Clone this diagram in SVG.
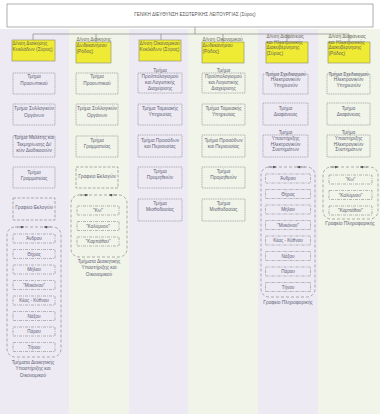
<svg xmlns="http://www.w3.org/2000/svg" width="380" height="414" viewBox="0 0 380 414">
<defs>
<style>
text{font-family:"Liberation Sans",Arial,sans-serif}
.t{font-size:4.8px;fill:#5e6274;text-anchor:middle}
.i{font-size:4.6px;fill:#5e6274;text-anchor:middle}
.y{font-size:4.8px;fill:#66664f}
.h{font-size:4.6px;fill:#555;text-anchor:middle}
.bl{fill:#EDEAF4}
.bg{fill:#F1F4E9}
.top{fill:#fff;stroke:#7a7a7a;stroke-width:0.6}
.dir{fill:#EFEB35;stroke:#8a8a70;stroke-width:0.6}
.dept{fill:none;stroke:#8c8c8c;stroke-width:0.6;stroke-dasharray:1.2 0.6}
.office{fill:none;stroke:#8c8c8c;stroke-width:0.7;stroke-dasharray:3 1.5}
.item{fill:none;stroke:#8c8c8c;stroke-width:0.6;stroke-dasharray:3 1 1 1}
.cont{fill:none;stroke:#8c8c8c;stroke-width:0.7;stroke-dasharray:3 2}
.ar{stroke:#666;stroke-width:0.6;marker-end:url(#ah)}
.conn{fill:none;stroke:#7a7a7a;stroke-width:0.6}
</style>
<marker id="ah" markerWidth="3" markerHeight="3" refX="3" refY="1.5" orient="auto" markerUnits="userSpaceOnUse">
<path d="M0,0 L3,1.5 L0,3 z" fill="#555"/>
</marker>
</defs>

<g id="bands">
<rect class="bl" x="0" y="29" width="69" height="385"/>
<rect class="bg" x="69" y="29" width="60" height="385"/>
<rect class="bl" x="129" y="29" width="59" height="385"/>
<rect class="bg" x="188" y="29" width="70" height="385"/>
<rect class="bl" x="258" y="29" width="60" height="385"/>
<rect class="bg" x="318" y="29" width="62" height="385"/>
</g>

<g id="connectors">
<path class="conn" d="M195 27V34M33 34H349M33 34V40M96 34V42M161 34V40M223 34V42M287 34V42M349 34V42"/>
</g>

<g id="gd">
<rect class="top" x="7" y="4" width="366" height="23"/>
<text class="h" x="195" y="15.6">ΓΕΝΙΚΗ ΔΙΕΥΘΥΝΣΗ ΕΣΩΤΕΡΙΚΗΣ ΛΕΙΤΟΥΡΓΙΑΣ (Σύρος)</text>
</g>

<!-- Directorates -->
<g id="d1"><rect class="dir" x="12" y="40" width="43" height="21"/>
<text class="y"><tspan x="12.6" y="45.2">Δ/νση Διοίκησης</tspan><tspan x="12.6" y="51.2">Κυκλάδων (Σύρος)</tspan></text></g>
<g id="d2"><rect class="dir" x="76" y="42" width="35" height="21"/>
<text class="y"><tspan x="76.5" y="41">Δ/νση Διοίκησης</tspan><tspan x="76.5" y="46.8">Δωδεκανήσου</tspan><tspan x="76.5" y="52.8">(Ρόδος)</tspan></text></g>
<g id="d3"><rect class="dir" x="139" y="40" width="42" height="21"/>
<text class="y"><tspan x="139.5" y="45.2">Δ/νση Οικονομικού</tspan><tspan x="139.5" y="51.2">Κυκλάδων (Σύρος)</tspan></text></g>
<g id="d4"><rect class="dir" x="202" y="42" width="42" height="21"/>
<text class="y"><tspan x="202.5" y="41">Δ/νση Οικονομικού</tspan><tspan x="202.5" y="46.8">Δωδεκανήσου</tspan><tspan x="202.5" y="52.8">(Ρόδος)</tspan></text></g>
<g id="d5"><rect class="dir" x="266" y="42" width="42" height="21"/>
<text class="y"><tspan x="266.5" y="38">Δ/νση Διαφάνειας</tspan><tspan x="266.5" y="43.7">και Ηλεκτρονικής</tspan><tspan x="266.5" y="49.4">Διακυβέρνησης</tspan><tspan x="266.5" y="55.1">(Σύρος)</tspan></text></g>
<g id="d6"><rect class="dir" x="328" y="42" width="42" height="21"/>
<text class="y"><tspan x="328.5" y="38">Δ/νση Διαφάνειας</tspan><tspan x="328.5" y="43.7">και Ηλεκτρονικής</tspan><tspan x="328.5" y="49.4">Διακυβέρνησης</tspan><tspan x="328.5" y="55.1">(Ρόδος)</tspan></text></g>

<!-- Column 1 -->
<g id="c1-prosopikou"><rect class="dept" x="13" y="73" width="42" height="21"/>
<text class="t"><tspan x="34" y="78.3">Τμήμα</tspan><tspan x="34" y="84.8">Προσωπικού</tspan></text></g>
<g id="c1-syllogikon"><rect class="dept" x="13" y="104" width="42" height="21"/>
<text class="t"><tspan x="34" y="110">Τμήμα Συλλογικών</tspan><tspan x="34" y="116.5">Οργάνων</tspan></text></g>
<g id="c1-meletis"><rect class="dept" x="13" y="136" width="42" height="21"/>
<text class="t"><tspan x="34" y="139.3">Τμήμα Μελέτης και</tspan><tspan x="34" y="145.8">Τεκμηρίωσης Δι/</tspan><tspan x="34" y="152.2">κών Διαδικασιών</tspan></text></g>
<g id="c1-grammateias"><rect class="dept" x="13" y="167" width="42" height="21"/>
<text class="t"><tspan x="34" y="174">Τμήμα</tspan><tspan x="34" y="180">Γραμματείας</tspan></text></g>
<g id="c1-ekloges"><rect class="office" x="13" y="198" width="42" height="22"/>
<text class="t" x="34" y="208.5">Γραφείο Εκλογών</text></g>
<g id="c1-tmimata">
<rect class="cont" x="7" y="227" width="54" height="130" rx="8"/>
<line class="ar" x1="17" y1="227" x2="24" y2="227"/>
<line class="ar" x1="51" y1="227" x2="44" y2="227"/>
<rect class="item" x="13" y="234" width="42" height="9"/><text class="i" x="34" y="240.2">Άνδρου</text>
<rect class="item" x="13" y="249.5" width="42" height="9"/><text class="i" x="34" y="255.7">Θήρας</text>
<rect class="item" x="13" y="265" width="42" height="9"/><text class="i" x="34" y="271.2">Μήλου</text>
<rect class="item" x="13" y="280.5" width="42" height="9"/><text class="i" x="34" y="286.7">"Μυκόνου"</text>
<rect class="item" x="13" y="296" width="42" height="9"/><text class="i" x="34" y="302.2">Κέας - Κύθνου</text>
<rect class="item" x="13" y="311.5" width="42" height="9"/><text class="i" x="34" y="317.7">Νάξου</text>
<rect class="item" x="13" y="327" width="42" height="9"/><text class="i" x="34" y="333.2">Πάρου</text>
<rect class="item" x="13" y="342.5" width="42" height="9"/><text class="i" x="34" y="348.7">Τήνου</text>
<text class="t"><tspan x="33" y="363.5">Τμήματα Διοικητικής</tspan><tspan x="33" y="370">Υποστήριξης και</tspan><tspan x="33" y="376.5">Οικονομικού</tspan></text>
</g>

<!-- Column 2 -->
<g id="c2-prosopikou"><rect class="dept" x="76" y="73" width="42" height="21"/>
<text class="t"><tspan x="97" y="78.3">Τμήμα</tspan><tspan x="97" y="84.8">Προσωπικού</tspan></text></g>
<g id="c2-syllogikon"><rect class="dept" x="76" y="104" width="42" height="21"/>
<text class="t"><tspan x="97" y="110">Τμήμα Συλλογικών</tspan><tspan x="97" y="116.5">Οργάνων</tspan></text></g>
<g id="c2-grammateias"><rect class="dept" x="76" y="136" width="42" height="21"/>
<text class="t"><tspan x="97" y="141.7">Τμήμα</tspan><tspan x="97" y="147.7">Γραμματείας</tspan></text></g>
<g id="c2-ekloges"><rect class="office" x="76" y="167" width="42" height="21"/>
<text class="t" x="97" y="177.7">Γραφείο Εκλογών</text></g>
<g id="c2-tmimata">
<rect class="cont" x="71" y="195" width="56" height="62" rx="8"/>
<line class="ar" x1="80" y1="195" x2="88" y2="195"/>
<line class="ar" x1="117" y1="195" x2="109" y2="195"/>
<rect class="item" x="77" y="206" width="42" height="9"/><text class="i" x="98" y="212.2">"Κω"</text>
<rect class="item" x="77" y="221.5" width="42" height="9"/><text class="i" x="98" y="227.7">"Καλύμνου"</text>
<rect class="item" x="77" y="237" width="42" height="9"/><text class="i" x="98" y="243.2">"Καρπάθου"</text>
<text class="t"><tspan x="99" y="262.7">Τμήματα Διοικητικής</tspan><tspan x="99" y="269.2">Υποστήριξης και</tspan><tspan x="99" y="275.7">Οικονομικού</tspan></text>
</g>

<!-- Column 3 -->
<g id="c3-proypologismou"><rect class="dept" x="138" y="73" width="44" height="20"/>
<text class="t"><tspan x="160" y="71.7">Τμήμα</tspan><tspan x="160" y="77.7">Προϋπολογισμού</tspan><tspan x="160" y="84.2">και Λογιστικής</tspan><tspan x="160" y="90.2">Διαχείρισης</tspan></text></g>
<g id="c3-tameiakis"><rect class="dept" x="138" y="104" width="44" height="21"/>
<text class="t"><tspan x="160" y="110.2">Τμήμα Ταμειακής</tspan><tspan x="160" y="116.2">Υπηρεσίας</tspan></text></g>
<g id="c3-prosodon"><rect class="dept" x="138" y="135" width="44" height="22"/>
<text class="t"><tspan x="160" y="141.7">Τμήμα Προσόδων</tspan><tspan x="160" y="147.7">και Περιουσίας</tspan></text></g>
<g id="c3-promitheion"><rect class="dept" x="138" y="167" width="44" height="21"/>
<text class="t"><tspan x="160" y="173.4">Τμήμα</tspan><tspan x="160" y="179.4">Προμηθειών</tspan></text></g>
<g id="c3-misthodosias"><rect class="dept" x="138" y="199" width="44" height="22"/>
<text class="t"><tspan x="160" y="205">Τμήμα</tspan><tspan x="160" y="211">Μισθοδοσίας</tspan></text></g>

<!-- Column 4 -->
<g id="c4-proypologismou"><rect class="dept" x="202" y="73" width="43" height="20"/>
<text class="t"><tspan x="223.5" y="71.7">Τμήμα</tspan><tspan x="223.5" y="77.7">Προϋπολογισμού</tspan><tspan x="223.5" y="84.2">και Λογιστικής</tspan><tspan x="223.5" y="90.2">Διαχείρισης</tspan></text></g>
<g id="c4-tameiakis"><rect class="dept" x="202" y="104" width="43" height="21"/>
<text class="t"><tspan x="223.5" y="110.2">Τμήμα Ταμειακής</tspan><tspan x="223.5" y="116.2">Υπηρεσίας</tspan></text></g>
<g id="c4-prosodon"><rect class="dept" x="202" y="135" width="43" height="22"/>
<text class="t"><tspan x="223.5" y="141.7">Τμήμα Προσόδων</tspan><tspan x="223.5" y="147.7">και Περιουσίας</tspan></text></g>
<g id="c4-promitheion"><rect class="dept" x="202" y="167" width="43" height="21"/>
<text class="t"><tspan x="223.5" y="173.4">Τμήμα</tspan><tspan x="223.5" y="179.4">Προμηθειών</tspan></text></g>
<g id="c4-misthodosias"><rect class="dept" x="202" y="199" width="43" height="22"/>
<text class="t"><tspan x="223.5" y="205">Τμήμα</tspan><tspan x="223.5" y="211">Μισθοδοσίας</tspan></text></g>

<!-- Column 5 -->
<g id="c5-sxediasmou"><rect class="dept" x="263" y="74" width="45" height="20"/>
<text class="t"><tspan x="285.5" y="75.7">Τμήμα Σχεδιασμού</tspan><tspan x="285.5" y="81.2">Ηλεκτρονικών</tspan><tspan x="285.5" y="86.7">Υπηρεσιών</tspan></text></g>
<g id="c5-diafaneias"><rect class="dept" x="263" y="103" width="45" height="22"/>
<text class="t"><tspan x="285.5" y="110">Τμήμα</tspan><tspan x="285.5" y="116">Διαφάνειας</tspan></text></g>
<g id="c5-ypostirixis"><rect class="dept" x="263" y="135" width="45" height="22"/>
<text class="t"><tspan x="285.5" y="134.4">Τμήμα</tspan><tspan x="285.5" y="140">Υποστήριξης</tspan><tspan x="285.5" y="145.7">Ηλεκτρονικών</tspan><tspan x="285.5" y="151.3">Συστημάτων</tspan></text></g>
<g id="c5-pliroforikis">
<rect class="cont" x="261" y="167" width="54" height="130" rx="8"/>
<line class="ar" x1="268" y1="167" x2="276" y2="167"/>
<line class="ar" x1="305" y1="167" x2="297" y2="167"/>
<rect class="item" x="265.5" y="174" width="45" height="9"/><text class="i" x="288" y="180.2">Άνδρου</text>
<rect class="item" x="265.5" y="189.5" width="45" height="9"/><text class="i" x="288" y="195.7">Θήρας</text>
<rect class="item" x="265.5" y="205" width="45" height="9"/><text class="i" x="288" y="211.2">Μήλου</text>
<rect class="item" x="265.5" y="220.5" width="45" height="9"/><text class="i" x="288" y="226.7">"Μυκόνου"</text>
<rect class="item" x="265.5" y="236" width="45" height="9"/><text class="i" x="288" y="242.2">Κέας - Κύθνου</text>
<rect class="item" x="265.5" y="251.5" width="45" height="9"/><text class="i" x="288" y="257.7">Νάξου</text>
<rect class="item" x="265.5" y="267" width="45" height="9"/><text class="i" x="288" y="273.2">Πάρου</text>
<rect class="item" x="265.5" y="282.5" width="45" height="9"/><text class="i" x="288" y="288.7">Τήνου</text>
<text class="t" x="288" y="303.5">Γραφείο Πληροφορικής</text>
</g>

<!-- Column 6 -->
<g id="c6-sxediasmou"><rect class="dept" x="327" y="74" width="43" height="20"/>
<text class="t"><tspan x="348.5" y="75.7">Τμήμα Σχεδιασμού</tspan><tspan x="348.5" y="81.2">Ηλεκτρονικών</tspan><tspan x="348.5" y="86.7">Υπηρεσιών</tspan></text></g>
<g id="c6-diafaneias"><rect class="dept" x="327" y="103" width="43" height="22"/>
<text class="t"><tspan x="348.5" y="110">Τμήμα</tspan><tspan x="348.5" y="116">Διαφάνειας</tspan></text></g>
<g id="c6-ypostirixis"><rect class="dept" x="327" y="135" width="43" height="22"/>
<text class="t"><tspan x="348.5" y="134.4">Τμήμα</tspan><tspan x="348.5" y="140">Υποστήριξης</tspan><tspan x="348.5" y="145.7">Ηλεκτρονικών</tspan><tspan x="348.5" y="151.3">Συστημάτων</tspan></text></g>
<g id="c6-pliroforikis">
<rect class="cont" x="323" y="167" width="55" height="52" rx="8"/>
<line class="ar" x1="330" y1="167" x2="338" y2="167"/>
<line class="ar" x1="368" y1="167" x2="360" y2="167"/>
<rect class="item" x="329" y="175" width="43" height="9"/><text class="i" x="350.5" y="181.2">"Κω"</text>
<rect class="item" x="329" y="190.5" width="43" height="9"/><text class="i" x="350.5" y="196.7">"Καλύμνου"</text>
<rect class="item" x="329" y="206" width="43" height="9"/><text class="i" x="350.5" y="212.2">"Καρπάθου"</text>
<text class="t" x="350" y="224.8">Γραφείο Πληροφορικής</text>
</g>
</svg>
